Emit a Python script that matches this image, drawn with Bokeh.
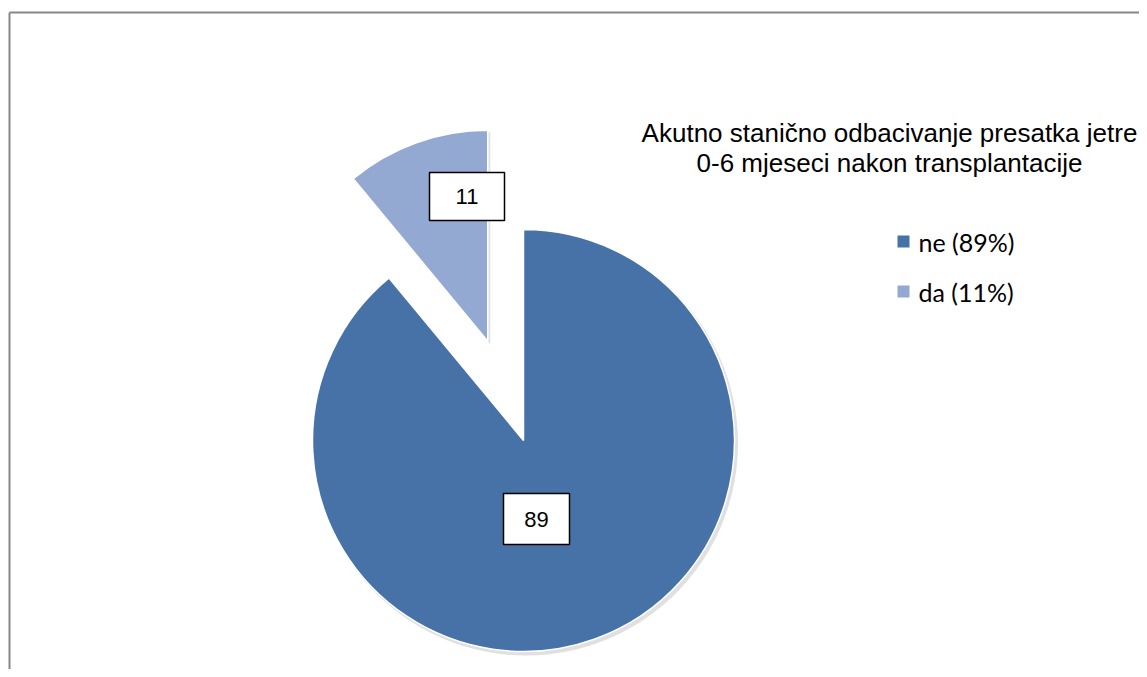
import math
from bokeh.plotting import figure
from bokeh.models import Range1d
from bokeh.core.properties import value
from bokeh.embed import file_html
from bokeh.resources import INLINE

# ---- data ----
categories = ["ne", "da"]
counts = [89, 11]
percents = [89, 11]
colors = ["#4672A8", "#94A9D1"]
explode = [0.0, 0.5]
title_lines = ["Akutno stanično odbacivanje presatka jetre",
               "0-6 mjeseci nakon transplantacije"]

# ---- layout (image pixel coords, y measured upward: Y' = 677 - Y) ----
W, H = 1139, 669
CX, CY = 523.0, 677 - 440.0
R = 211.0

p = figure(width=W, height=H, output_backend="svg", toolbar_location=None,
           x_range=Range1d(0, W), y_range=Range1d(677 - H, 677),
           x_axis_type=None, y_axis_type=None, min_border=0)
p.grid.visible = False
p.outline_line_color = None
p.background_fill_color = "white"
p.border_fill_color = "white"

# chart area border (left and top only visible in reference)
p.segment(x0=[9, 9], y0=[0, 665], x1=[9, W], y1=[665, 665],
          line_color="#878787", line_width=2)

total = float(sum(counts))
cum = 0.0
for i, v in enumerate(counts):
    a0 = math.pi / 2 - 2 * math.pi * cum
    cum += v / total
    a1 = math.pi / 2 - 2 * math.pi * cum
    mid = (a0 + a1) / 2
    cx = CX + explode[i] * R * math.cos(mid)
    cy = CY + explode[i] * R * math.sin(mid)
    # soft shadow
    p.wedge(x=[cx + 2.5], y=[cy - 3], radius=R + 1, start_angle=[a1], end_angle=[a0],
            direction="anticlock", fill_color="#000000", fill_alpha=0.12, line_color=None)
    p.wedge(x=[cx], y=[cy], radius=R, start_angle=[a1], end_angle=[a0],
            direction="anticlock", fill_color=colors[i], line_color="white", line_width=1.5)

# data labels (boxes)
label_pos = [(536.0, 677 - 518.5, 66, 51), (466.5, 677 - 196.0, 75, 48)]
for i, v in enumerate(counts):
    x, y, w, h = label_pos[i]
    p.rect(x=[x], y=[y], width=w, height=h, fill_color="white",
           line_color="black", line_width=1.5)
    p.text(x=[x], y=[y], text=[str(v)], text_align="center", text_baseline="middle",
           text_font=value("Liberation Sans"), text_font_size="22px", text_color="black")

# title
p.text(x=[889, 889], y=[677 - 132, 677 - 162], text=title_lines,
       text_align="center", text_baseline="alphabetic",
       text_font=value("Liberation Sans"), text_font_size="26px", text_color="black")

# legend
leg_y = [677 - 241, 677 - 291]
p.rect(x=[903, 903], y=leg_y, width=12, height=12, fill_color=colors, line_color=None)
p.text(x=[918, 918], y=leg_y,
       text=[f"{c} ({pc}%)" for c, pc in zip(categories, percents)],
       text_align="left", text_baseline="middle",
       text_font=value("Lato"), text_font_size="25px", text_color="black")

open("out.html", "w").write(file_html(p, INLINE))
